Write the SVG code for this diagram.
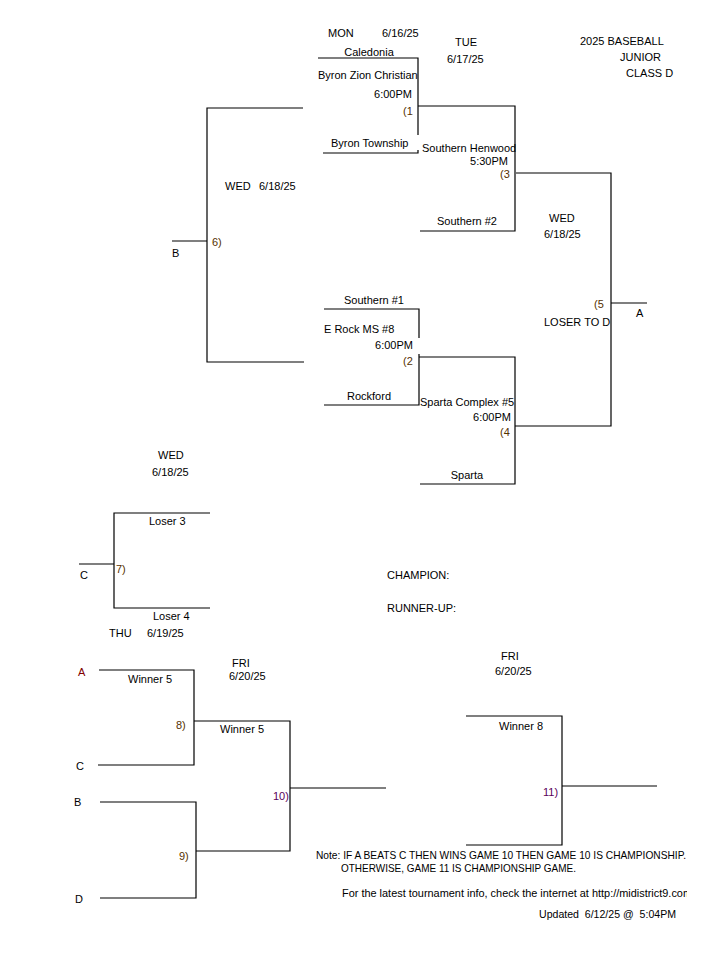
<svg xmlns="http://www.w3.org/2000/svg" width="720" height="960" viewBox="0 0 720 960">
<style>
text{font-family:"Liberation Sans",Arial,sans-serif;font-size:11px;fill:#000}
.r{text-anchor:end}
.c{text-anchor:middle}
.g{fill:#553000}
.p{fill:#5a005a}
.m{fill:#800000}
.ln{stroke:#000;stroke-width:1.2;fill:none}
</style>
<defs>
<clipPath id="clipR"><rect x="0" y="0" width="687" height="960"/></clipPath>
</defs>
<rect width="720" height="960" fill="#fff"/>
<g id="connectors" class="ln">
<path d="M318 58H418V135M418 150V153H323"/>
<path d="M418 106H515V231H420"/>
<path d="M516 173H611V426H515"/>
<path d="M611 303H647"/>
<path d="M324 309H419V338M419 354V405H324"/>
<path d="M419 357H515V484H420"/>
<path d="M303 108H207V362H304M172 241H207"/>
<path d="M210 513H114V608H210M79 564H114"/>
<path d="M99 670H194V765H98"/>
<path d="M194 721H290V851H196"/>
<path d="M100 802H196V898H100"/>
<path d="M290 788H386"/>
<path d="M466 716H562V845H466M562 786H657"/>
</g>
<g id="header">
<text x="580" y="45">2025 BASEBALL</text>
<text x="620" y="61">JUNIOR</text>
<text x="626" y="77">CLASS D</text>
<text x="328" y="37">MON</text>
<text x="382" y="37">6/16/25</text>
<text x="455" y="46">TUE</text>
<text x="447" y="63">6/17/25</text>
</g>
<g id="game1">
<text x="369" y="56" class="c">Caledonia</text>
<text x="318" y="79">Byron Zion Christian</text>
<text x="412" y="98" class="r">6:00PM</text>
<text x="403" y="115" class="g">(1</text>
<text x="331" y="147">Byron Township</text>
</g>
<g id="game3">
<text x="422" y="152">Southern Henwood</text>
<text x="508" y="165" class="r">5:30PM</text>
<text x="500" y="178" class="g">(3</text>
<text x="467" y="225" class="c">Southern #2</text>
</g>
<g id="game5">
<text x="549" y="222">WED</text>
<text x="544" y="238">6/18/25</text>
<text x="594" y="308" class="g">(5</text>
<text x="636" y="317">A</text>
<text x="544" y="326">LOSER TO D</text>
</g>
<g id="game2">
<text x="374" y="304" class="c">Southern #1</text>
<text x="324" y="333">E Rock MS #8</text>
<text x="413" y="349" class="r">6:00PM</text>
<text x="403" y="365" class="g">(2</text>
<text x="369" y="400" class="c">Rockford</text>
</g>
<g id="game4">
<text x="420" y="406">Sparta Complex #5</text>
<text x="511" y="421" class="r">6:00PM</text>
<text x="500" y="436" class="g">(4</text>
<text x="467" y="479" class="c">Sparta</text>
</g>
<g id="game6">
<text x="225" y="190">WED</text>
<text x="259" y="190">6/18/25</text>
<text x="212" y="246" class="g">6)</text>
<text x="172" y="257">B</text>
</g>
<g id="game7">
<text x="158" y="459">WED</text>
<text x="152" y="476">6/18/25</text>
<text x="149" y="525">Loser 3</text>
<text x="116" y="573" class="g">7)</text>
<text x="80" y="579">C</text>
<text x="153" y="620">Loser 4</text>
<text x="109" y="637">THU</text>
<text x="147" y="637">6/19/25</text>
</g>
<g id="results">
<text x="387" y="579">CHAMPION:</text>
<text x="387" y="612">RUNNER-UP:</text>
</g>
<g id="game8">
<text x="78" y="676" class="m">A</text>
<text x="128" y="683">Winner 5</text>
<text x="232" y="667">FRI</text>
<text x="229" y="680">6/20/25</text>
<text x="176" y="729" class="g">8)</text>
<text x="76" y="770">C</text>
</g>
<g id="game10">
<text x="220" y="733">Winner 5</text>
<text x="273" y="800" class="p">10)</text>
</g>
<g id="game9">
<text x="74" y="806">B</text>
<text x="179" y="860" class="g">9)</text>
<text x="75" y="903">D</text>
</g>
<g id="game11">
<text x="501" y="660">FRI</text>
<text x="495" y="675">6/20/25</text>
<text x="499" y="730">Winner 8</text>
<text x="543" y="796" class="p">11)</text>
</g>
<g id="notes">
<text x="316" y="859" textLength="370" lengthAdjust="spacingAndGlyphs">Note: IF A BEATS C THEN WINS GAME 10 THEN GAME 10 IS CHAMPIONSHIP.</text>
<text x="341" y="872" textLength="235" lengthAdjust="spacingAndGlyphs">OTHERWISE, GAME 11 IS CHAMPIONSHIP GAME.</text>
<text x="342" y="897" textLength="350" lengthAdjust="spacingAndGlyphs" clip-path="url(#clipR)">For the latest tournament info, check the internet at http://midistrict9.com</text>
<text x="539" y="918" xml:space="preserve" textLength="137" lengthAdjust="spacingAndGlyphs">Updated  6/12/25 @  5:04PM</text>
</g>
</svg>
